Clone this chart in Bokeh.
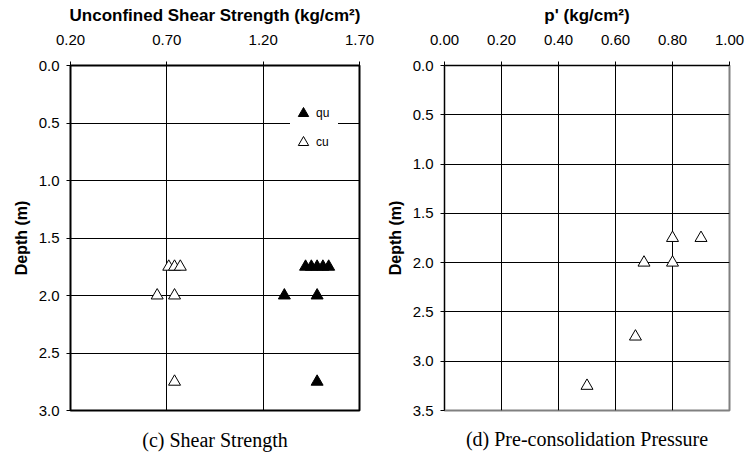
from bokeh.plotting import figure
from bokeh.models import (Range1d, FixedTicker, PrintfTickFormatter, Legend,
                          LegendItem, LinearAxis, ColumnDataSource)
from bokeh.layouts import row
from bokeh.embed import file_html
from bokeh.resources import INLINE

# ---- data ----
qu_strength = [1.42, 1.45, 1.48, 1.51, 1.54, 1.31, 1.48, 1.48]
qu_depth = [1.75, 1.75, 1.75, 1.75, 1.75, 2.0, 2.0, 2.75]
cu_strength = [0.71, 0.74, 0.77, 0.65, 0.74, 0.74]
cu_depth = [1.75, 1.75, 1.75, 2.0, 2.0, 2.75]
pc_pressure = [0.80, 0.90, 0.70, 0.80, 0.67, 0.50]
pc_depth = [1.75, 1.75, 2.0, 2.0, 2.75, 3.25]

strength_ticks = [0.20, 0.70, 1.20, 1.70]
pressure_ticks = [0.0, 0.2, 0.4, 0.6, 0.8, 1.0]
depth_ticks_c = [0.0, 0.5, 1.0, 1.5, 2.0, 2.5, 3.0]
depth_ticks_d = [0.0, 0.5, 1.0, 1.5, 2.0, 2.5, 3.0, 3.5]

FONT = "Liberation Sans"


def style(p, xticks, yticks, xlabel, xfmt, outline_color):
    xa = p.xaxis[0]
    ya = p.yaxis[0]
    xa.ticker = FixedTicker(ticks=xticks)
    ya.ticker = FixedTicker(ticks=yticks)
    xa.formatter = PrintfTickFormatter(format=xfmt)
    ya.formatter = PrintfTickFormatter(format="%.1f")
    for ax in (xa, ya):
        ax.major_tick_out = 4
        ax.major_tick_in = 0
        ax.minor_tick_line_color = None
        ax.axis_line_color = "black"
        ax.axis_line_width = 1
        ax.major_tick_line_color = "black"
        ax.major_label_text_font = FONT
        ax.major_label_text_font_size = "15px"
        ax.major_label_text_color = "black"
        ax.axis_label_text_font = FONT
        ax.axis_label_text_font_style = "bold"
        ax.axis_label_text_color = "black"
    xa.axis_label_text_font_size = "17px"
    ya.axis_label_text_font_size = "16px"
    xa.axis_label = xlabel
    ya.axis_label = "Depth (m)"
    xa.major_label_standoff = 17
    xa.axis_label_standoff = 7
    ya.major_label_standoff = 7
    ya.axis_label_standoff = 6
    p.xgrid.ticker = FixedTicker(ticks=xticks)
    p.ygrid.ticker = FixedTicker(ticks=yticks)
    p.grid.grid_line_color = "black"
    p.grid.grid_line_alpha = 1.0
    p.grid.grid_line_width = 1
    p.outline_line_color = outline_color
    p.outline_line_width = 2
    p.background_fill_color = "white"
    p.border_fill_color = "white"


def caption(p, text, standoff):
    ax = LinearAxis(ticker=FixedTicker(ticks=[]), axis_label=text,
                    axis_line_color=None, major_tick_line_color=None,
                    minor_tick_line_color=None, major_tick_out=0, major_tick_in=0,
                    major_label_text_font_size="0px", major_label_standoff=0,
                    axis_label_standoff=standoff,
                    axis_label_text_font="Liberation Serif",
                    axis_label_text_font_size="20px",
                    axis_label_text_font_style="normal",
                    axis_label_text_color="black")
    p.add_layout(ax, "below")


# ---- (c) Shear strength ----
p1 = figure(width=378, height=458, x_range=Range1d(0.2, 1.7), y_range=Range1d(3.0, 0.0),
            x_axis_location="above", output_backend="svg", toolbar_location=None,
            min_border_left=70, min_border_right=19, min_border_top=65, min_border_bottom=48)
style(p1, strength_ticks, depth_ticks_c, "Unconfined Shear Strength (kg/cm²)", "%.2f", "black")

src_qu = ColumnDataSource(dict(x=qu_strength, y=qu_depth))
src_cu = ColumnDataSource(dict(x=cu_strength, y=cu_depth))
r_qu = p1.scatter("x", "y", source=src_qu, marker="triangle", size=12,
                  fill_color="black", line_color="black")
r_cu = p1.scatter("x", "y", source=src_cu, marker="triangle", size=12,
                  fill_color="white", line_color="black", line_width=1)

legend = Legend(items=[LegendItem(label="qu", renderers=[r_qu]),
                       LegendItem(label="cu", renderers=[r_cu])],
                location=(220, 255), glyph_width=26, glyph_height=26, spacing=3,
                padding=19, margin=0, label_standoff=-12, label_height=12,
                label_width=22,
                label_text_font=FONT, label_text_font_size="12px",
                label_text_color="black",
                background_fill_color="white", background_fill_alpha=1.0,
                border_line_color=None)
p1.add_layout(legend)
caption(p1, "(c) Shear Strength", 18)

# ---- (d) Pre-consolidation pressure ----
p2 = figure(width=368, height=458, x_range=Range1d(0.0, 1.0), y_range=Range1d(3.5, 0.0),
            x_axis_location="above", output_backend="svg", toolbar_location=None,
            min_border_left=66, min_border_right=17, min_border_top=65, min_border_bottom=44)
style(p2, pressure_ticks, depth_ticks_d, "p' (kg/cm²)", "%.2f", "#808080")
src_pc = ColumnDataSource(dict(x=pc_pressure, y=pc_depth))
p2.scatter("x", "y", source=src_pc, marker="triangle", size=12,
           fill_color="white", line_color="black", line_width=1)
caption(p2, "(d) Pre-consolidation Pressure", 17)

layout = row(p1, p2)
open("out.html", "w").write(file_html(layout, INLINE))
